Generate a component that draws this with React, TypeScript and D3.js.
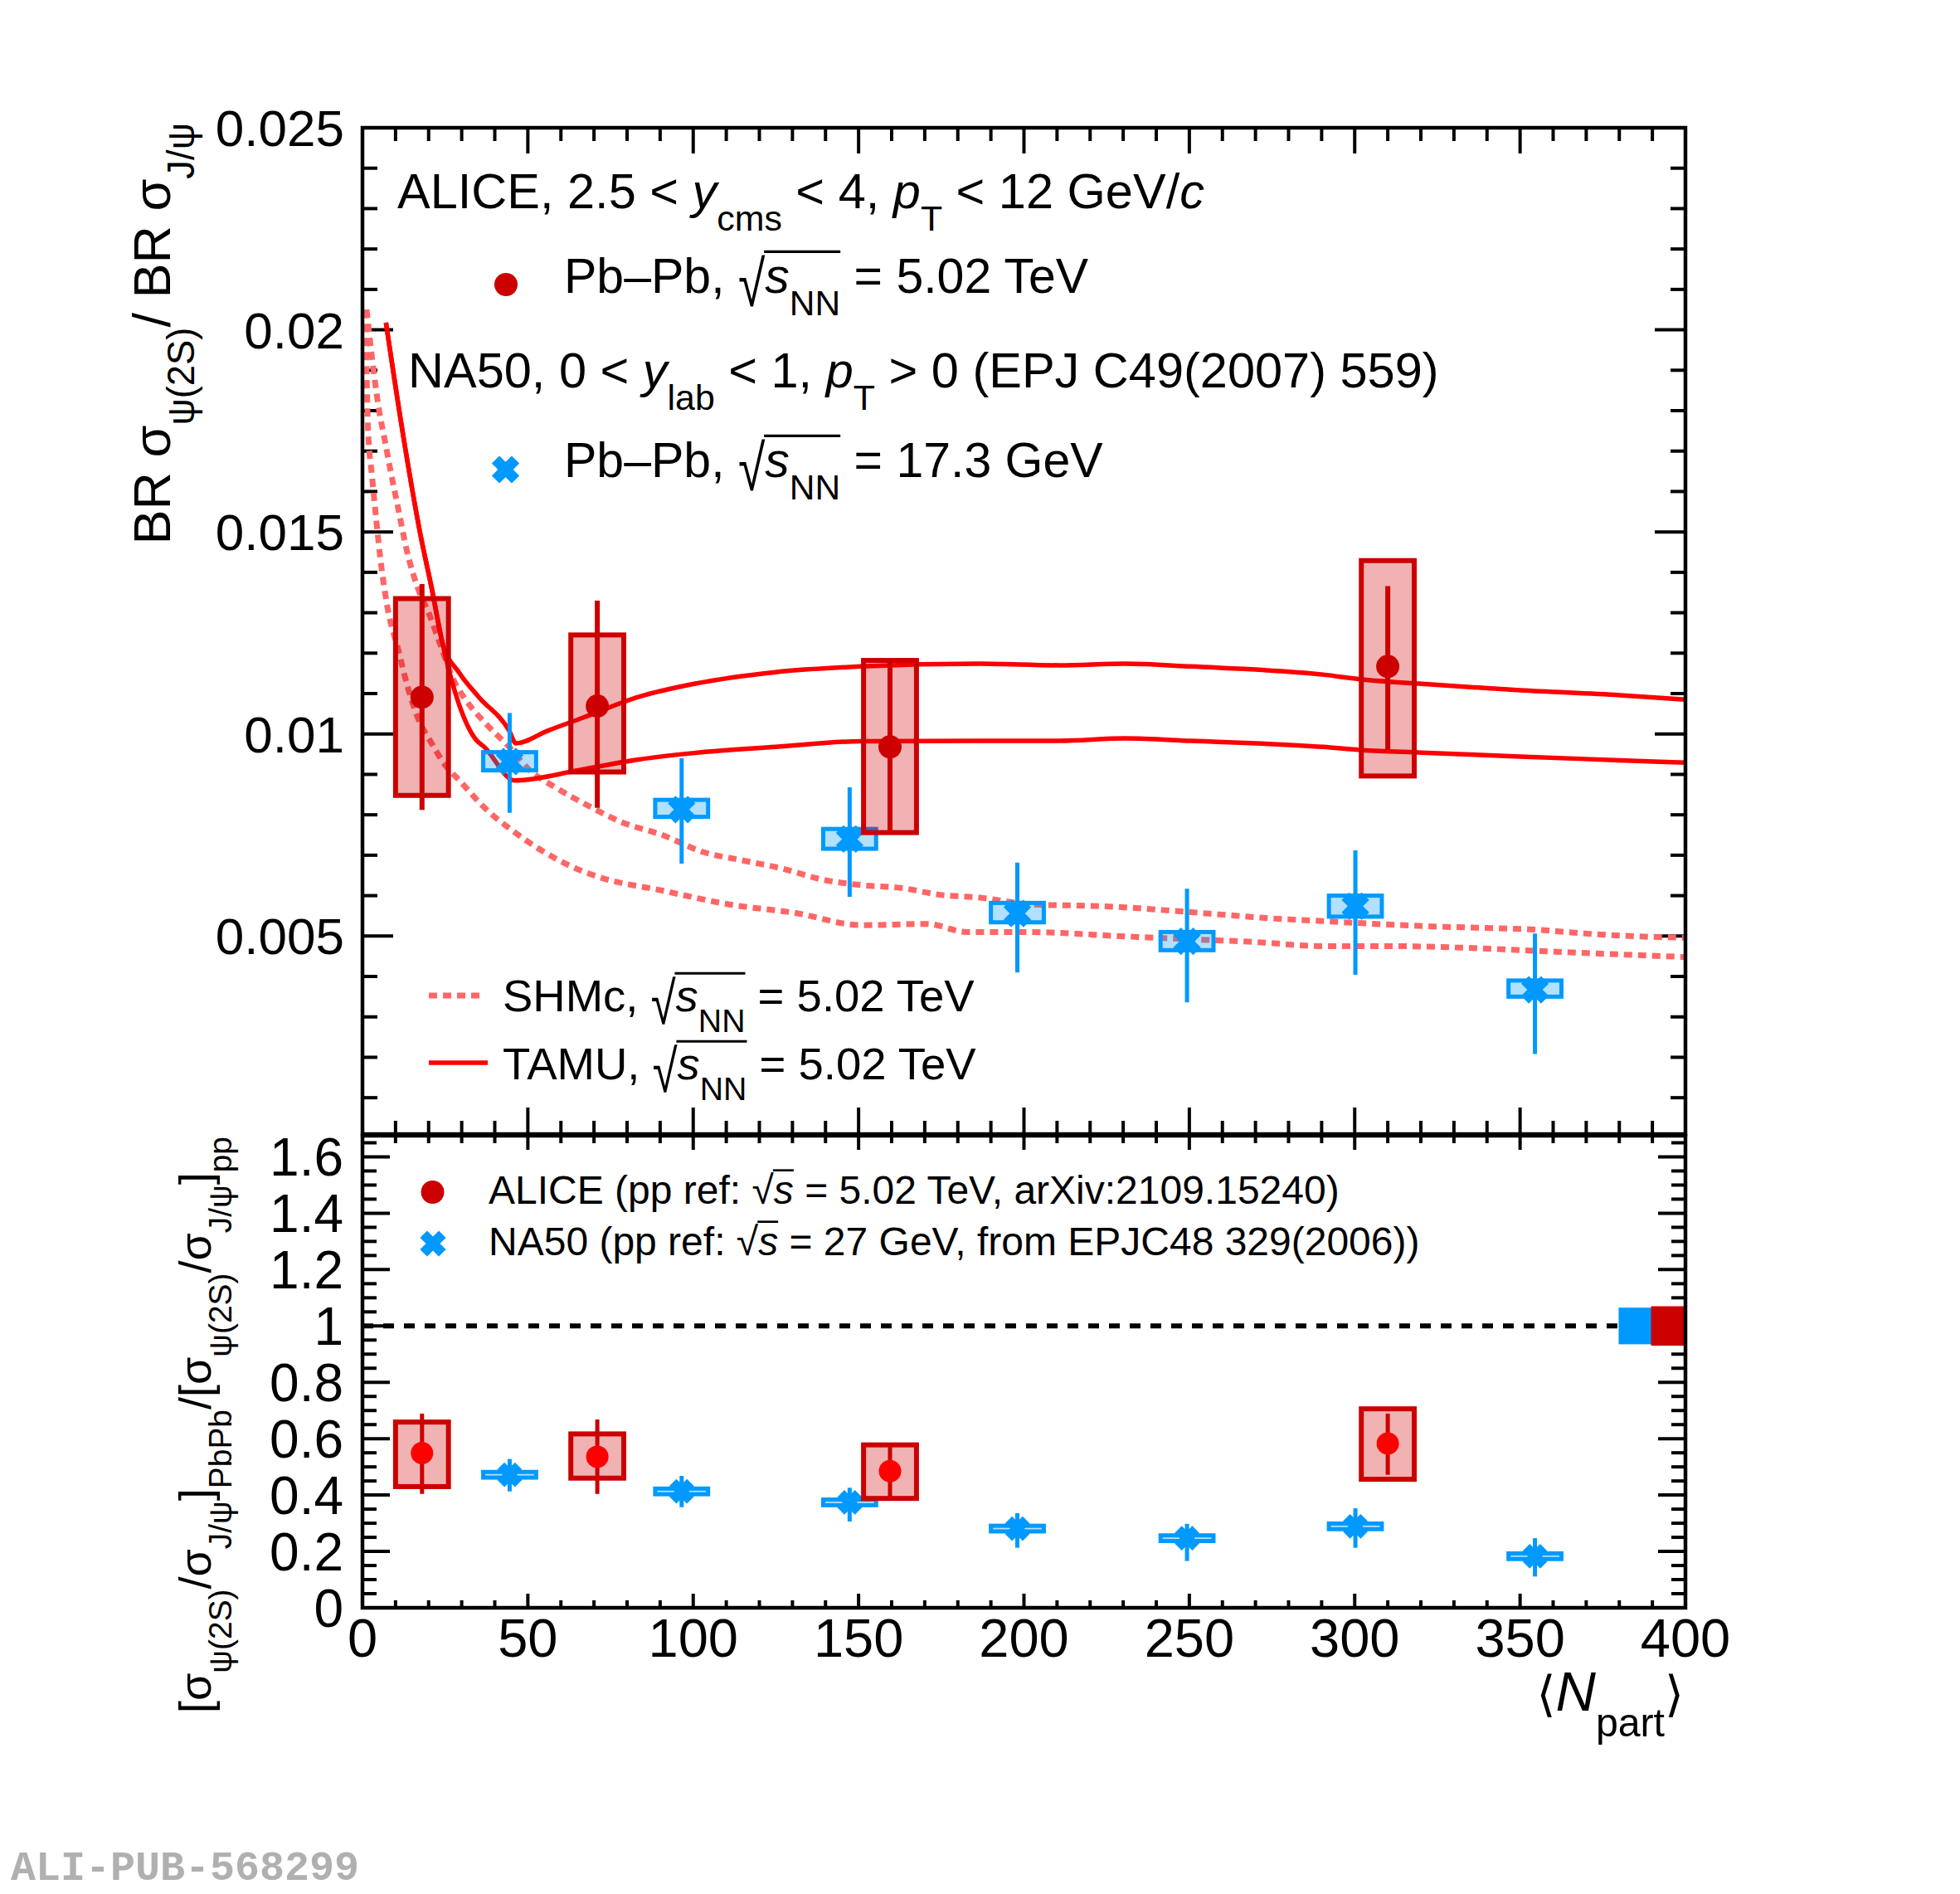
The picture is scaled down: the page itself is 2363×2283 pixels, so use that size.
import React, { useEffect, useRef } from "react";
import * as d3 from "d3";

const W = 2363;
const H = 2283;
const FONT = "'Liberation Sans', Arial, Helvetica, sans-serif";

// ---- upper panel: psi(2S)/J/psi ratio ----
const aliceX = [18, 71, 159.5, 310];
const aliceVal = [0.01091, 0.01069, 0.00968, 0.01167];
const aliceStatLo = [0.00812, 0.00817, 0.00753, 0.00961];
const aliceStatHi = [0.01371, 0.0133, 0.01185, 0.01366];
const aliceSystLo = [0.00848, 0.00906, 0.00756, 0.00896];
const aliceSystHi = [0.01335, 0.01245, 0.01182, 0.01429];

const na50X = [44.5, 96.5, 147.3, 198, 249.3, 300.2, 354.5];
const na50Val = [0.00932, 0.00813, 0.0074, 0.00556, 0.00487, 0.00574, 0.00367];
const na50StatLo = [0.00805, 0.00679, 0.00597, 0.0041, 0.00336, 0.00404, 0.00208];
const na50StatHi = [0.01052, 0.0094, 0.00868, 0.00682, 0.00617, 0.00712, 0.00506];
const na50SystLo = [0.0091, 0.00795, 0.00716, 0.00534, 0.00465, 0.00548, 0.0035];
const na50SystHi = [0.00955, 0.00837, 0.00765, 0.00582, 0.0051, 0.006, 0.0039];

// ---- lower panel: double ratio ----
const aliceRVal = [0.549, 0.536, 0.485, 0.583];
const aliceRStatLo = [0.404, 0.404, 0.385, 0.472];
const aliceRStatHi = [0.689, 0.668, 0.585, 0.689];
const aliceRSystLo = [0.43, 0.46, 0.388, 0.456];
const aliceRSystHi = [0.659, 0.617, 0.578, 0.706];

const na50RVal = [0.472, 0.413, 0.374, 0.281, 0.247, 0.289, 0.183];
const na50RStatLo = [0.413, 0.357, 0.306, 0.213, 0.166, 0.213, 0.111];
const na50RStatHi = [0.528, 0.468, 0.426, 0.336, 0.298, 0.353, 0.247];
const na50RSystLo = [0.462, 0.403, 0.364, 0.271, 0.237, 0.279, 0.173];
const na50RSystHi = [0.482, 0.423, 0.384, 0.291, 0.257, 0.299, 0.193];

// ---- models ----
const tamuHiX = [7.1, 12.5, 17.6, 20.9, 24.2, 29.3, 35.1, 44.3, 46.4, 56, 66.9, 83.6, 100.3, 124.9, 150.8, 186.7, 210.7, 230.6, 250.5, 290.4, 302.3, 320.3, 350.1, 380.1, 400];
const tamuHi = [0.02018, 0.01729, 0.0149, 0.01362, 0.01225, 0.01151, 0.01092, 0.01009, 0.00977, 0.01008, 0.01041, 0.01092, 0.01124, 0.01153, 0.01167, 0.01174, 0.0117, 0.01174, 0.01167, 0.01147, 0.01135, 0.01124, 0.01108, 0.01096, 0.01085];
const tamuLoX = [7.1, 12.5, 17.6, 20.9, 24.2, 34.3, 36.8, 46, 66.9, 83.6, 100.3, 124.9, 150.8, 186.7, 210.7, 230.6, 250.5, 290.4, 302.3, 320.3, 350.1, 380.1, 400];
const tamuLo = [0.02018, 0.01729, 0.0149, 0.01362, 0.01225, 0.00986, 0.00968, 0.00885, 0.00913, 0.00937, 0.00953, 0.00968, 0.00982, 0.00983, 0.00983, 0.00989, 0.00983, 0.00968, 0.0096, 0.00954, 0.00944, 0.00935, 0.00929];

const shmHiX = [1.25, 3.3, 5.0, 6.7, 8.4, 10.9, 13.4, 16.7, 20.1, 23.4, 27.6, 31.8, 37.6, 44.3, 50.2, 58.5, 68.6, 77.7, 91, 103, 115, 126.9, 138.9, 150.8, 162.8, 174.8, 186.7, 202.7, 218.6, 230.6, 242.5, 258.5, 274.4, 290.4, 306.3, 326.3, 340.2, 354.2, 370.1, 386.1, 400];
const shmHi = [0.0205, 0.01903, 0.01802, 0.01729, 0.01655, 0.01554, 0.01454, 0.01362, 0.01298, 0.01224, 0.01133, 0.01078, 0.01023, 0.00968, 0.00913, 0.00867, 0.00821, 0.00784, 0.00749, 0.00708, 0.00687, 0.00667, 0.0064, 0.00626, 0.00619, 0.00602, 0.00595, 0.00578, 0.00575, 0.00571, 0.00564, 0.00554, 0.00544, 0.00537, 0.0053, 0.00523, 0.0052, 0.00516, 0.00506, 0.00499, 0.00496];
const shmLoX = [0.84, 1.25, 1.67, 2.9, 4.2, 5.4, 7.5, 10.9, 13.4, 16.7, 20.9, 25.1, 29.3, 37.6, 46, 54.3, 62.7, 71.1, 91, 111, 130.9, 150.8, 170.8, 182.7, 200.7, 230.6, 250.5, 270.4, 290.4, 310.3, 330.3, 350.2, 370.1, 400];
const shmLo = [0.0205, 0.01894, 0.01756, 0.01637, 0.01527, 0.01435, 0.01316, 0.01206, 0.01124, 0.01041, 0.00977, 0.00922, 0.00885, 0.00812, 0.00757, 0.00711, 0.00674, 0.00647, 0.00612, 0.00578, 0.00557, 0.00527, 0.0053, 0.0051, 0.0051, 0.00499, 0.00492, 0.00485, 0.00475, 0.00475, 0.00472, 0.00465, 0.00458, 0.00448];

// ---- axes ----
const xMajor = [0, 50, 100, 150, 200, 250, 300, 350, 400];
const yUpperMajor = [0.005, 0.01, 0.015, 0.02, 0.025];
const yUpperLabels = ["0.005", "0.01", "0.015", "0.02", "0.025"];
const yLowerMajor = [0, 0.2, 0.4, 0.6, 0.8, 1, 1.2, 1.4, 1.6];
const yLowerLabels = ["0", "0.2", "0.4", "0.6", "0.8", "1", "1.2", "1.4", "1.6"];

const RED = "#cc0000";
const BRIGHT = "#ff0000";
const BLUE = "#0099ff";
const SALMON = "#ff6666";

type Seg = { t: string; sub?: boolean; it?: boolean; ov?: boolean; sz?: number; font?: string; rad?: boolean };

function rich(parent: any, x: number, y: number, segs: Seg[], size: number, anchor = "start", rotate = false, fill = "#000") {
  const g = parent.append("g");
  const inner = g.append("g");
  let cx = 0;
  let ovA: number | null = null;
  let ovB = 0;
  segs.forEach((s) => {
    const fs = s.sub ? size * 0.72 : size * (s.sz ?? 1);
    const el = inner
      .append("text")
      .attr("x", cx)
      .attr("y", s.sub ? size * 0.46 : 0)
      .attr("font-size", fs)
      .attr("font-family", s.font ?? FONT)
      .attr("font-style", s.it ? "italic" : "normal")
      .attr("fill", fill)
      .style("white-space", "pre")
      .text(s.t);
    if (s.rad) {
      // stretch the radical downwards, like ROOT's tall #sqrt sign
      const top = -size * 0.84;
      el.attr("transform", `translate(0,${top}) scale(1,1.32) translate(0,${-top})`);
    }
    const w = (el.node() as SVGTextElement).getComputedTextLength();
    if (s.ov) {
      if (ovA === null) ovA = cx;
      ovB = cx + w;
    }
    cx += w;
  });
  if (ovA !== null) {
    inner
      .append("line")
      .attr("x1", ovA - size * 0.02)
      .attr("x2", ovB)
      .attr("y1", -size * 0.84)
      .attr("y2", -size * 0.84)
      .attr("stroke", fill)
      .attr("stroke-width", size * 0.055);
  }
  const off = anchor === "end" ? -cx : anchor === "middle" ? -cx / 2 : 0;
  inner.attr("transform", `translate(${off},0)`);
  g.attr("transform", `translate(${x},${y})${rotate ? " rotate(-90)" : ""}`);
}

const sqrtS = (sub?: string, tall = true): Seg[] => {
  const s: Seg[] = [{ t: "√", rad: tall }, { t: "s", it: true, ov: true }];
  if (sub) s.push({ t: sub, sub: true, ov: true });
  return s;
};

function crossPath(cx: number, cy: number, L = 17, t = 6.5) {
  const pts = [
    [t, L], [-t, L], [-t, t], [-L, t], [-L, -t], [-t, -t],
    [-t, -L], [t, -L], [t, -t], [L, -t], [L, t], [t, t],
  ];
  const c = Math.SQRT1_2;
  return (
    "M" +
    pts.map(([px, py]) => `${cx + (px - py) * c},${cy + (px + py) * c}`).join("L") +
    "Z"
  );
}

export default function App() {
  const ref = useRef<SVGSVGElement>(null);

  useEffect(() => {
    document.body.style.margin = "0";
    const svg = d3.select(ref.current);
    svg.selectAll("*").remove();
    svg.append("rect").attr("width", W).attr("height", H).attr("fill", "#fff");

    const L = 437, R = 2032;
    const uTop = 154, uBot = 1367, lTop = 1369, lBot = 1938;
    const x = d3.scaleLinear().domain([0, 400]).range([L, R]);
    const yU = d3.scaleLinear().domain([0.0001, 0.025]).range([uBot, uTop]);
    const yL = d3.scaleLinear().domain([0, 1.675]).range([lBot, lTop]);

    const defs = svg.append("defs");
    defs.append("clipPath").attr("id", "clipU").append("rect")
      .attr("x", L).attr("y", uTop).attr("width", R - L).attr("height", uBot - uTop);
    defs.append("clipPath").attr("id", "clipL").append("rect")
      .attr("x", L).attr("y", lTop).attr("width", R - L).attr("height", lBot - lTop);

    // ---------- frames & ticks ----------
    const axes = svg.append("g").attr("stroke", "#000").attr("stroke-width", 4);
    const xMinor = d3.range(0, 401, 10);
    const drawXTicks = (y0: number, dir: number, maj: number, min: number) => {
      xMinor.forEach((v) => {
        const len = v % 50 === 0 ? maj : min;
        axes.append("line").attr("x1", x(v)).attr("x2", x(v)).attr("y1", y0).attr("y2", y0 + dir * len);
      });
    };
    drawXTicks(uTop, 1, 31, 16);
    drawXTicks(uBot, -1, 32, 16);
    drawXTicks(lTop, 1, 17, 9);
    drawXTicks(lBot, -1, 17, 9);

    d3.range(1, 26).forEach((i) => {
      const v = i * 0.001;
      const len = i % 5 === 0 ? 37 : 18;
      axes.append("line").attr("x1", L).attr("x2", L + len).attr("y1", yU(v)).attr("y2", yU(v));
      axes.append("line").attr("x1", R).attr("x2", R - len).attr("y1", yU(v)).attr("y2", yU(v));
    });
    d3.range(0, 34).forEach((i) => {
      const v = i * 0.05;
      const len = i % 4 === 0 ? 33 : 17;
      axes.append("line").attr("x1", L).attr("x2", L + len).attr("y1", yL(v)).attr("y2", yL(v));
      axes.append("line").attr("x1", R).attr("x2", R - len).attr("y1", yL(v)).attr("y2", yL(v));
    });

    // tick labels
    const lab = svg.append("g").attr("font-family", FONT).attr("fill", "#000");
    yUpperMajor.forEach((v, i) => {
      lab.append("text").attr("x", 415).attr("y", yU(v) + 22).attr("font-size", 62)
        .attr("text-anchor", "end").text(yUpperLabels[i]);
    });
    yLowerMajor.forEach((v, i) => {
      lab.append("text").attr("x", 414).attr("y", yL(v) + 23).attr("font-size", 64)
        .attr("text-anchor", "end").text(yLowerLabels[i]);
    });
    xMajor.forEach((v) => {
      lab.append("text").attr("x", x(v)).attr("y", 1997).attr("font-size", 65)
        .attr("text-anchor", "middle").text(String(v));
    });

    // ---------- upper panel: models ----------
    const up = svg.append("g").attr("clip-path", "url(#clipU)");
    const lineU = (xs: number[], ys: number[]) =>
      d3.line<number>().x((_, i) => x(xs[i])).y((d) => yU(d)).curve(d3.curveMonotoneX)(ys);

    [[shmHiX, shmHi], [shmLoX, shmLo]].forEach(([xs, ys]) => {
      up.append("path").attr("d", lineU(xs, ys)).attr("fill", "none")
        .attr("stroke", SALMON).attr("stroke-width", 7).attr("stroke-dasharray", "10 7");
    });
    [[tamuHiX, tamuHi], [tamuLoX, tamuLo]].forEach(([xs, ys]) => {
      up.append("path").attr("d", lineU(xs, ys)).attr("fill", "none")
        .attr("stroke", BRIGHT).attr("stroke-width", 5.5).attr("stroke-linejoin", "round");
    });

    // ---------- upper panel: data ----------
    const HW = 8;
    na50X.forEach((v, i) => {
      up.append("rect").attr("x", x(v - HW)).attr("width", x(v + HW) - x(v - HW))
        .attr("y", yU(na50SystHi[i])).attr("height", yU(na50SystLo[i]) - yU(na50SystHi[i]))
        .attr("fill", BLUE).attr("fill-opacity", 0.3).attr("stroke", BLUE).attr("stroke-width", 5);
      up.append("line").attr("x1", x(v)).attr("x2", x(v))
        .attr("y1", yU(na50StatLo[i])).attr("y2", yU(na50StatHi[i]))
        .attr("stroke", BLUE).attr("stroke-width", 5);
      up.append("path").attr("d", crossPath(x(v), yU(na50Val[i]))).attr("fill", BLUE);
    });
    aliceX.forEach((v, i) => {
      up.append("rect").attr("x", x(v - HW)).attr("width", x(v + HW) - x(v - HW))
        .attr("y", yU(aliceSystHi[i])).attr("height", yU(aliceSystLo[i]) - yU(aliceSystHi[i]))
        .attr("fill", RED).attr("fill-opacity", 0.3).attr("stroke", RED).attr("stroke-width", 6);
      up.append("line").attr("x1", x(v)).attr("x2", x(v))
        .attr("y1", yU(aliceStatLo[i])).attr("y2", yU(aliceStatHi[i]))
        .attr("stroke", RED).attr("stroke-width", 6);
      up.append("circle").attr("cx", x(v)).attr("cy", yU(aliceVal[i])).attr("r", 14).attr("fill", RED);
    });

    // ---------- lower panel ----------
    const lo = svg.append("g").attr("clip-path", "url(#clipL)");
    lo.append("line").attr("x1", x(0)).attr("x2", x(400)).attr("y1", yL(1)).attr("y2", yL(1))
      .attr("stroke", "#000").attr("stroke-width", 6).attr("stroke-dasharray", "13 12");
    lo.append("rect").attr("x", x(379.8)).attr("width", x(390) - x(379.8))
      .attr("y", yL(1.065)).attr("height", yL(0.935) - yL(1.065)).attr("fill", BLUE);
    lo.append("rect").attr("x", x(389.6)).attr("width", x(400) - x(389.6))
      .attr("y", yL(1.07)).attr("height", yL(0.93) - yL(1.07)).attr("fill", RED);

    na50X.forEach((v, i) => {
      lo.append("rect").attr("x", x(v - HW)).attr("width", x(v + HW) - x(v - HW))
        .attr("y", yL(na50RSystHi[i])).attr("height", yL(na50RSystLo[i]) - yL(na50RSystHi[i]))
        .attr("fill", BLUE).attr("fill-opacity", 0.3).attr("stroke", BLUE).attr("stroke-width", 5);
      lo.append("line").attr("x1", x(v)).attr("x2", x(v))
        .attr("y1", yL(na50RStatLo[i])).attr("y2", yL(na50RStatHi[i]))
        .attr("stroke", BLUE).attr("stroke-width", 5);
      lo.append("path").attr("d", crossPath(x(v), yL(na50RVal[i]), 15, 6)).attr("fill", BLUE);
    });
    aliceX.forEach((v, i) => {
      lo.append("rect").attr("x", x(v - HW)).attr("width", x(v + HW) - x(v - HW))
        .attr("y", yL(aliceRSystHi[i])).attr("height", yL(aliceRSystLo[i]) - yL(aliceRSystHi[i]))
        .attr("fill", RED).attr("fill-opacity", 0.3).attr("stroke", RED).attr("stroke-width", 6);
      lo.append("line").attr("x1", x(v)).attr("x2", x(v))
        .attr("y1", yL(aliceRStatLo[i])).attr("y2", yL(aliceRStatHi[i]))
        .attr("stroke", RED).attr("stroke-width", 5);
      lo.append("circle").attr("cx", x(v)).attr("cy", yL(aliceRVal[i])).attr("r", 13.5).attr("fill", BRIGHT);
    });

    // frames on top
    svg.append("rect").attr("x", L).attr("y", uTop).attr("width", R - L).attr("height", uBot - uTop)
      .attr("fill", "none").attr("stroke", "#000").attr("stroke-width", 4.5);
    svg.append("rect").attr("x", L).attr("y", lTop).attr("width", R - L).attr("height", lBot - lTop)
      .attr("fill", "none").attr("stroke", "#000").attr("stroke-width", 4.5);

    // ---------- texts ----------
    const T = svg.append("g");
    rich(T, 479, 251, [
      { t: "ALICE, 2.5 < " }, { t: "y", it: true }, { t: "cms", sub: true }, { t: " < 4, " },
      { t: "p", it: true }, { t: "T", sub: true }, { t: " < 12 GeV/" }, { t: "c", it: true },
    ], 59.5);
    svg.append("circle").attr("cx", 610).attr("cy", 343).attr("r", 14).attr("fill", RED);
    rich(T, 680, 353, [{ t: "Pb–Pb, " }, ...sqrtS("NN"), { t: " = 5.02 TeV" }], 59);
    rich(T, 492, 467, [
      { t: "NA50, 0 < " }, { t: "y", it: true }, { t: "lab", sub: true }, { t: " < 1, " },
      { t: "p", it: true }, { t: "T", sub: true }, { t: " > 0 (EPJ C49(2007) 559)" },
    ], 59.5);
    svg.append("path").attr("d", crossPath(609.5, 566)).attr("fill", BLUE);
    rich(T, 680, 575, [{ t: "Pb–Pb, " }, ...sqrtS("NN"), { t: " = 17.3 GeV" }], 59);

    // model legend
    svg.append("line").attr("x1", 517).attr("x2", 582).attr("y1", 1200).attr("y2", 1200)
      .attr("stroke", SALMON).attr("stroke-width", 7).attr("stroke-dasharray", "10 7");
    svg.append("line").attr("x1", 517).attr("x2", 588).attr("y1", 1281).attr("y2", 1281)
      .attr("stroke", BRIGHT).attr("stroke-width", 5.5);
    rich(T, 606, 1219, [{ t: "SHMc, " }, ...sqrtS("NN"), { t: " = 5.02 TeV" }], 54.5);
    rich(T, 606, 1301, [{ t: "TAMU, " }, ...sqrtS("NN"), { t: " = 5.02 TeV" }], 54.5);

    // lower legend
    svg.append("circle").attr("cx", 521.5).attr("cy", 1437).attr("r", 14).attr("fill", RED);
    rich(T, 589, 1451, [{ t: "ALICE (pp ref: " }, ...sqrtS(undefined, false), { t: " = 5.02 TeV, arXiv:2109.15240)" }], 48);
    svg.append("path").attr("d", crossPath(522, 1499, 16, 6)).attr("fill", BLUE);
    rich(T, 589, 1513, [{ t: "NA50 (pp ref: " }, ...sqrtS(undefined, false), { t: " = 27 GeV, from EPJC48 329(2006))" }], 48);

    // axis titles
    rich(T, 205, 148, [
      { t: "BR σ" }, { t: "ψ(2S)", sub: true }, { t: "/ BR σ" }, { t: "J/ψ", sub: true },
    ], 63, "end", true);
    rich(T, 254, 1370, [
      { t: "[σ" }, { t: "ψ(2S)", sub: true }, { t: "/σ" }, { t: "J/ψ", sub: true }, { t: "]" },
      { t: "PbPb", sub: true }, { t: "/[σ" }, { t: "ψ(2S)", sub: true }, { t: "/σ" },
      { t: "J/ψ", sub: true }, { t: "]" }, { t: "pp", sub: true },
    ], 54, "end", true);
    rich(T, 2030, 2062, [
      { t: "⟨", font: "'DejaVu Sans', sans-serif", sz: 0.88 }, { t: "N", it: true }, { t: "part", sub: true },
      { t: "⟩", font: "'DejaVu Sans', sans-serif", sz: 0.88 },
    ], 67, "end");

    svg.append("text").attr("x", 13).attr("y", 2266).attr("font-family", "'Liberation Mono', 'Courier New', monospace")
      .attr("font-weight", "bold").attr("font-size", 50).attr("fill", "#b0b0b0").text("ALI-PUB-568299");
  }, []);

  return <svg ref={ref} width={W} height={H} style={{ display: "block" }} />;
}
